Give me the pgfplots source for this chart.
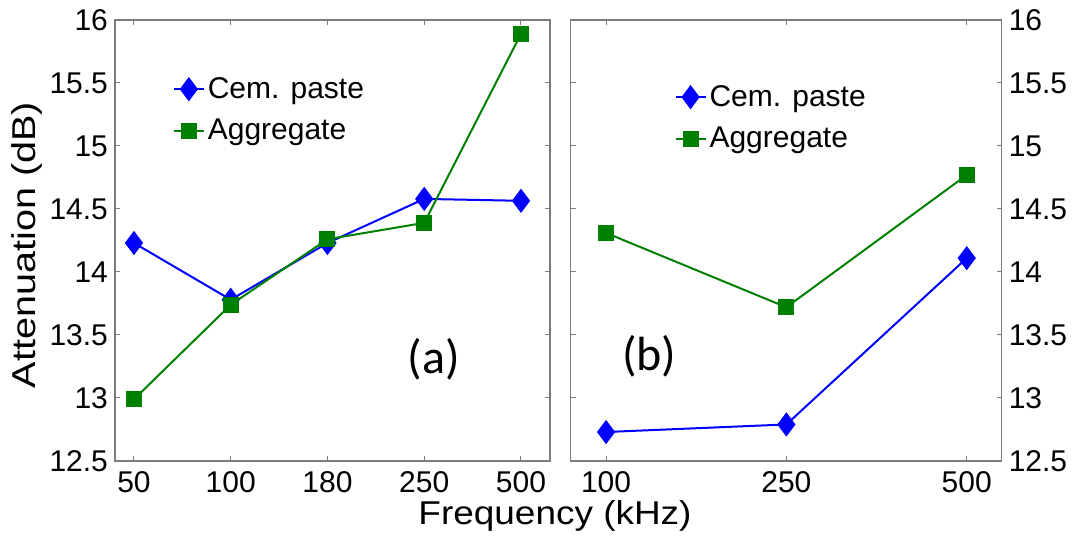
\documentclass[border=0pt]{standalone}
\usepackage{fontspec}
\setmainfont{Liberation Sans}
\newfontfamily\calib{Carlito}
\usepackage{graphicx}
\usepackage{pgfplots}
\pgfplotsset{compat=1.18}
\definecolor{axgray}{RGB}{125,125,125}
\definecolor{mblue}{RGB}{0,0,255}
\definecolor{mgreen}{RGB}{0,128,0}

\pgfplotstableread{
x cem agg
0 14.23 12.99
1 13.78 13.74
2 14.23 14.26
3 14.58 14.39
4 14.565 15.89
}\lefttab
\pgfplotstableread{
x cem agg
0 12.73 14.31
1 12.79 13.72
2 14.11 14.77
}\righttab

\pgfplotsset{mystyle/.style={
  scale only axis, height=220.5pt,
  ymin=12.5, ymax=16, ytick={12.5,13,13.5,14,14.5,15,15.5,16},
  yticklabels={12.5,13,13.5,14,14.5,15,15.5,16},
  axis line style={axgray, line width=0.6pt},
  every tick/.style={axgray, line width=0.5pt},
  major tick length=2.5pt,
  tick align=inside,
  tick pos=both,
  tick label style={font=\fontsize{15}{17}\selectfont, text=black},
  xticklabel style={yshift=-1.5pt},
  /pgf/number format/assume math mode=true,
  legend style={draw=none, fill=none, font=\fontsize{15}{17}\selectfont, row sep=6pt, inner sep=0pt, nodes={inner sep=1.5pt}},
  legend cell align=left,
  legend image code/.code={\draw[##1, mark repeat=2, mark phase=2] plot coordinates {(0pt,0pt) (7.5pt,0pt) (15pt,0pt)};},
  cem/.style={color=mblue, line width=1pt, mark=diamond*, mark size=5.25pt, mark options={solid, fill=mblue}},
  agg/.style={color=mgreen, line width=1pt, mark=square*, mark size=3.5pt, mark options={solid, fill=mgreen}},
}}

\begin{document}
\begin{tikzpicture}
\useasboundingbox (0,0) rectangle (538pt,275pt);

\begin{axis}[mystyle, at={(57.5pt,44.5pt)}, anchor=south west, width=217.5pt,
  xmin=-0.196, xmax=4.30, xtick={0,1,2,3,4}, xticklabels={50,100,180,250,500},
  yticklabel pos=left,
  legend style={at={(0.132,0.878)}, anchor=north west}]
\addplot[cem] table[x=x,y=cem] {\lefttab};
\addlegendentry{Cem. paste}
\addplot[agg] table[x=x,y=agg] {\lefttab};
\addlegendentry{Aggregate}
\node[font=\calib\fontsize{24}{28}\selectfont] at (axis cs:3.10,13.31) {(a)};
\end{axis}

\begin{axis}[mystyle, at={(285.35pt,44.5pt)}, anchor=south west, width=215.5pt,
  xmin=-0.196, xmax=2.194, xtick={0,1,2}, xticklabels={100,250,500},
  yticklabel pos=right,
  legend style={at={(0.240,0.860)}, anchor=north west}]
\addplot[cem] table[x=x,y=cem] {\righttab};
\addlegendentry{Cem. paste}
\addplot[agg] table[x=x,y=agg] {\righttab};
\addlegendentry{Aggregate}
\node[font=\calib\fontsize{24}{28}\selectfont] at (axis cs:0.24,13.33) {(b)};
\end{axis}

\node[font=\fontsize{16.5}{20}\selectfont] at (277.5pt,17pt) {\scalebox{1.12}[1]{Frequency (kHz)}};
\node[font=\fontsize{16.5}{20}\selectfont, rotate=90] at (13.5pt,152.5pt) {\scalebox{1.2}[1]{Attenuation (dB)}};
\end{tikzpicture}
\end{document}
